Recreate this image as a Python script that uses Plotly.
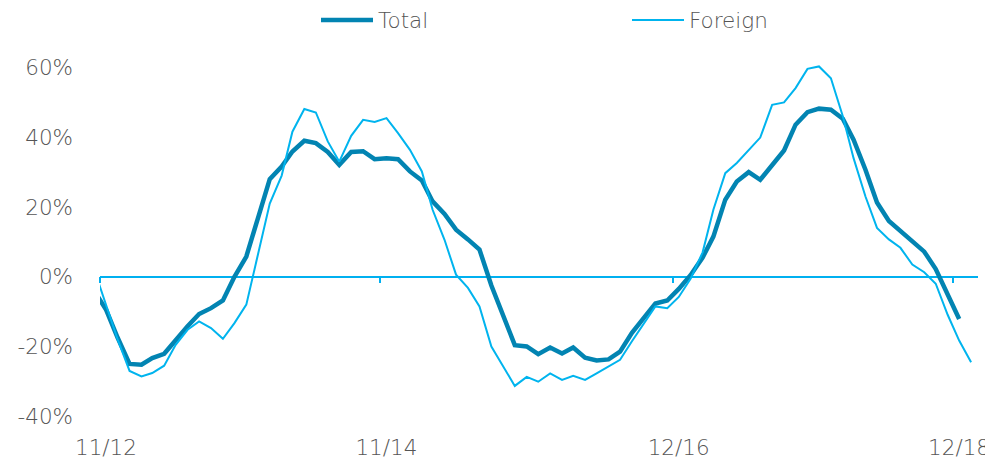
import pandas as pd
import plotly.graph_objects as go

# Monthly observations, Oct 2012 onward (plotted mid-month)
total_values = [
    -4, -9.5, -17.5, -25, -25.2, -23.3, -22.1, -18, -14.2, -10.7,
    -9, -6.8, 0, 5.8, 17, 28, 31.6, 35.9, 39, 38.3,
    35.8, 32.1, 35.8, 36, 33.7, 34, 33.7, 30.2, 27.6, 21.6,
    18, 13.5, 10.7, 7.8, -2.5, -11, -19.6, -20, -22.2, -20.3,
    -22, -20.3, -23.2, -24, -23.7, -21.5, -16.1, -11.8, -7.7, -6.8,
    -3.5, 0.5, 5.5, 11.5, 22.1, 27.3, 30, 27.8, 31.8, 36.2,
    43.6, 47.2, 48.2, 47.9, 45.3, 39.3, 30.7, 21.3, 16, 13.1,
    10.1, 7.2, 2.2, -5, -12.1,
]
foreign_values = [
    2, -8, -18, -27, -28.6, -27.6, -25.5, -19.5, -15.2, -12.8,
    -14.7, -17.8, -13.3, -8, 6.5, 21, 29, 41.6, 48.1, 47.1,
    38.8, 33, 40.4, 45, 44.4, 45.5, 41.2, 36.4, 30.2, 19.2,
    10.6, 0.6, -3.2, -8.5, -20, -25.7, -31.3, -28.7, -30.1, -27.7,
    -29.6, -28.4, -29.6, -27.7, -25.8, -23.8, -18.5, -13.3, -8.5, -9,
    -5.8, -0.5, 7, 19.2, 29.7, 32.6, 36.4, 39.9, 49.3, 50,
    54.1, 59.6, 60.3, 56.9, 46, 34, 23, 14, 10.7, 8.3,
    3.5, 1.3, -2, -10.9, -18.3, -24.5,
]
months = pd.date_range("2012-10-01", periods=len(foreign_values), freq="MS") + pd.Timedelta(days=16)
total_months = months[: len(total_values)]

tick_vals = ["2012-11-01", "2014-11-01", "2016-12-01", "2018-12-01"]
tick_text = ["11/12", "11/14", "12/16", "12/18"]
y_ticks = [-40, -20, 0, 20, 40, 60]
y_tick_text = ["-40%", "-20%", "0%", "20%", "40%", "60%"]

FONT = "DejaVu Sans, sans-serif"
TEXT_COLOR = "#555555"
FSIZE = 21.5

fig = go.Figure()
fig.add_trace(go.Scatter(
    x=total_months, y=total_values, name="Total", mode="lines",
    line=dict(color="#0284B2", width=4.5),
))
fig.add_trace(go.Scatter(
    x=months, y=foreign_values, name="Foreign", mode="lines",
    line=dict(color="#00B4EE", width=2),
))

# page has an 8px body margin, so the figure is 8px smaller on each axis
fig.update_layout(
    width=985, height=453,
    margin=dict(l=92, r=15, t=56, b=43),
    paper_bgcolor="white", plot_bgcolor="white",
    font=dict(family=FONT, size=FSIZE, color=TEXT_COLOR, weight=200),
    showlegend=True,
    legend=dict(
        orientation="h",
        xref="container", x=308 / 985, xanchor="left",
        yref="container", y=1 - 12 / 453, yanchor="middle",
        font=dict(family=FONT, size=FSIZE, color=TEXT_COLOR, weight=200),
        entrywidth=244, entrywidthmode="pixels", itemwidth=52,
        bgcolor="rgba(0,0,0,0)",
    ),
    xaxis=dict(
        type="date",
        range=["2012-11-01", "2019-02-04"],
        tickvals=tick_vals, ticktext=tick_text,
        anchor="free", position=40.5 / 101.5,
        showline=True, linecolor="#00B0F0", linewidth=1.5,
        ticks="outside", ticklen=6, tickwidth=1.5, tickcolor="#00B0F0",
        showgrid=False, zeroline=False,
        ticklabelstandoff=146, ticklabelshift=6,
        automargin=False, layer="below traces",
    ),
    yaxis=dict(
        range=[-40.5, 61],
        tickvals=y_ticks, ticktext=y_tick_text,
        showline=False, showgrid=False, zeroline=False,
        ticks="", ticklabelstandoff=26, automargin=False,
    ),
)

fig.write_html("out.html")
